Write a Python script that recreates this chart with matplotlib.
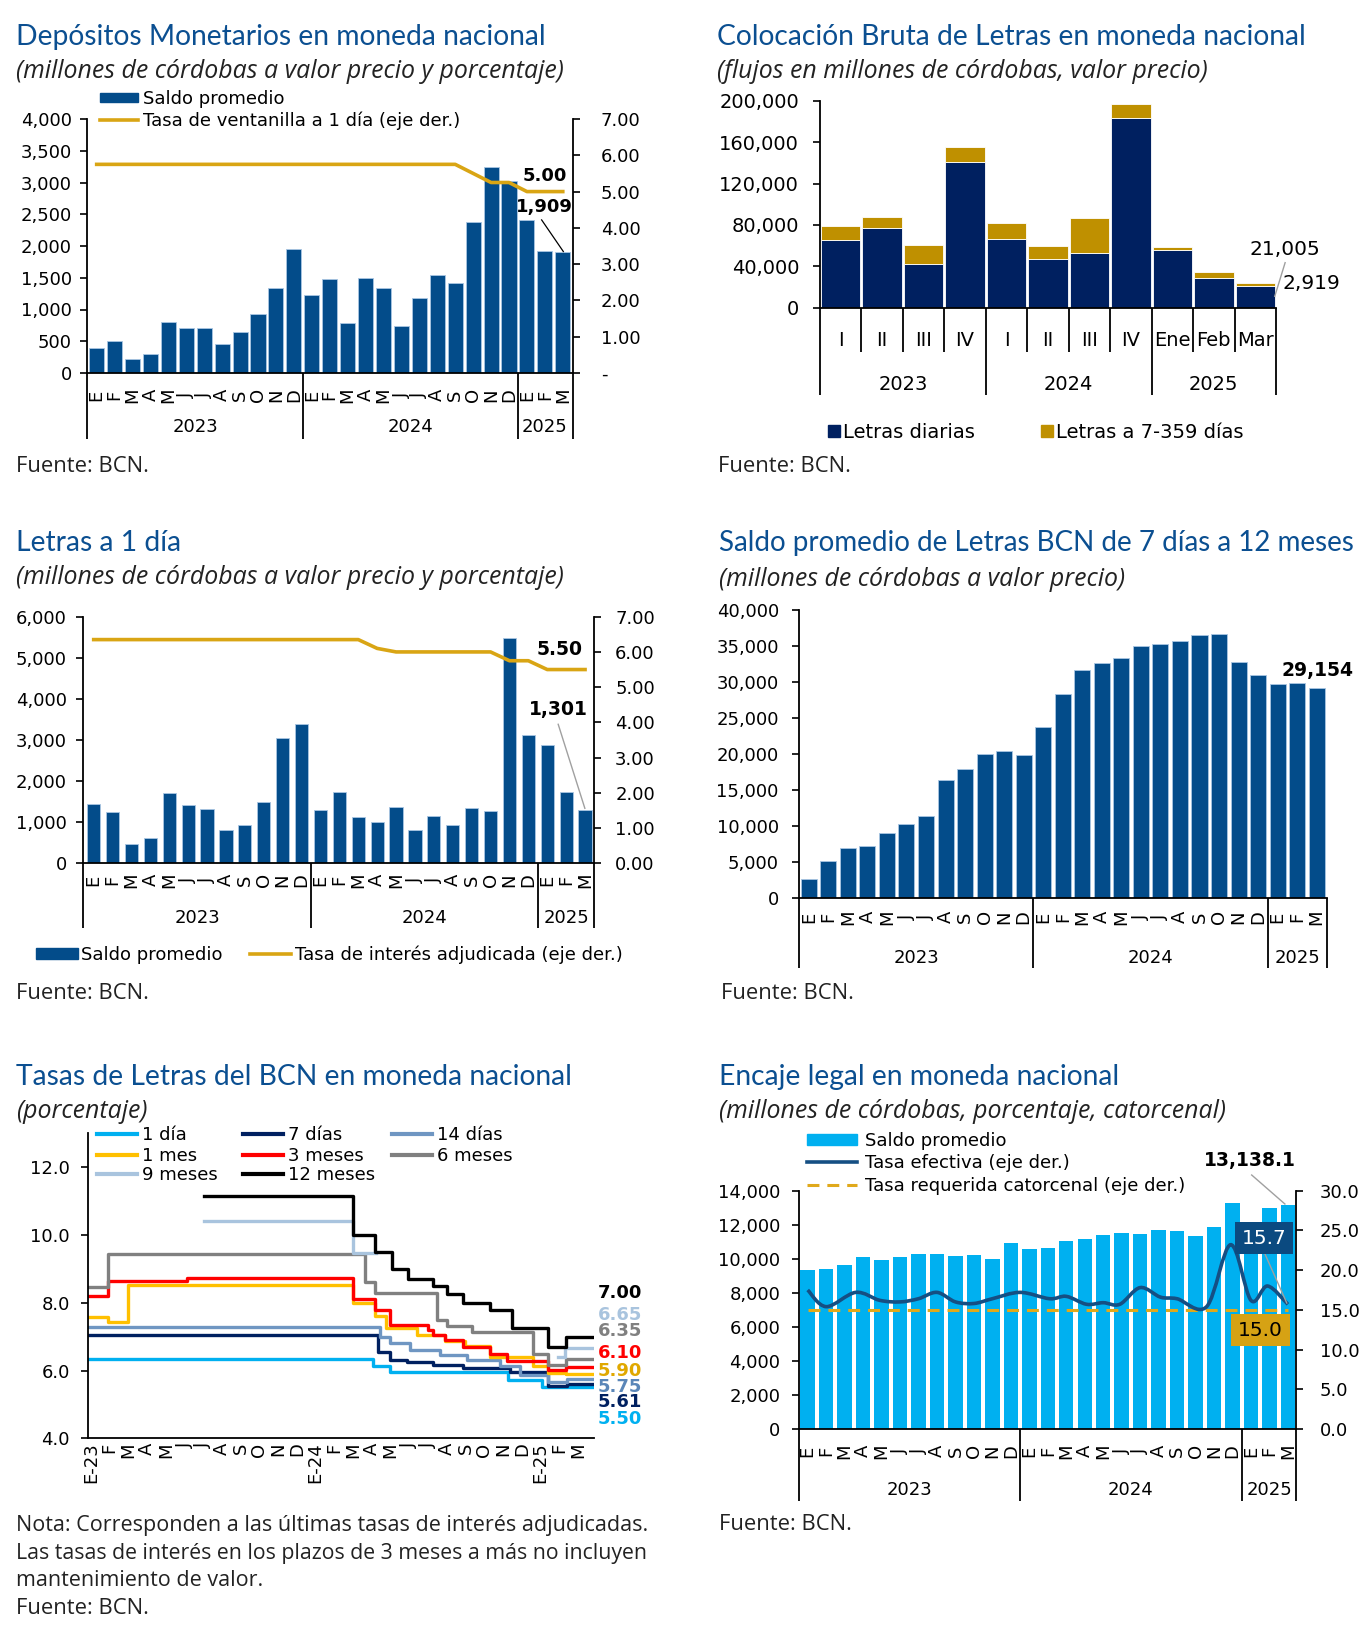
import numpy as np
import matplotlib
matplotlib.use("Agg")
import matplotlib.pyplot as plt
from matplotlib.patches import Patch, PathPatch
from matplotlib.lines import Line2D
from matplotlib.path import Path
from matplotlib.ticker import FuncFormatter

# ---------------- DATA ----------------
months_short = ['E', 'F', 'M', 'A', 'M', 'J', 'J', 'A', 'S', 'O', 'N', 'D']
month_labels = months_short * 2 + ['E', 'F', 'M']
years = ['2023', '2024', '2025']

# Panel 1: Depósitos monetarios
dep_saldo = [390, 500, 220, 300, 800, 710, 710, 460, 640, 930, 1340, 1960,
             1230, 1480, 790, 1500, 1340, 735, 1180, 1550, 1410, 2380, 3240, 3030,
             2415, 1915, 1909]
dep_tasa = [5.75] * 21 + [5.50, 5.25, 5.25, 5.00, 5.00, 5.00]

# Panel 2: Colocación bruta de letras
col_cats = ['I', 'II', 'III', 'IV', 'I', 'II', 'III', 'IV', 'Ene', 'Feb', 'Mar']
col_diarias = [65700, 76600, 42200, 140400, 66700, 47300, 52500, 183200, 56000, 28300, 21005]
col_7359 = [13500, 11000, 18400, 14800, 14800, 11900, 34500, 13900, 2300, 5800, 2919]

# Panel 3: Letras a 1 día
l1_saldo = [1440, 1260, 460, 620, 1700, 1420, 1320, 810, 920, 1500, 3040, 3400,
            1300, 1730, 1130, 1010, 1380, 810, 1150, 930, 1350, 1280, 5470, 3120,
            2880, 1730, 1301]
l1_tasa = [6.35] * 15 + [6.10] + [6.00] * 6 + [5.75, 5.75] + [5.50] * 3

# Panel 4: Saldo promedio letras 7 días a 12 meses
l7_saldo = [2730, 5230, 6940, 7310, 9020, 10270, 11470, 16370, 17900, 19980, 20440, 19840,
            23770, 28390, 31680, 32650, 33390, 35050, 35280, 35650, 36490, 36620, 32740, 30940,
            29730, 29830, 29154]

# Panel 5: Tasas de letras (step series; x = months since Jan-2023)
t_1d_x = [0, 15.23, 16.11, 22.43, 24.21, 27.0]
t_1d_y = [6.35, 6.12, 5.97, 5.72, 5.50, 5.50]
t_7d_x = [0, 15.49, 16.11, 17.0, 18.43, 20.03, 22.52, 24.56, 25.54, 27.0]
t_7d_y = [7.05, 6.56, 6.32, 6.24, 6.17, 6.07, 5.97, 5.53, 5.61, 5.61]
t_14d_x = [0, 15.58, 16.11, 17.18, 18.78, 20.21, 21.98, 23.05, 24.56, 25.54, 27.0]
t_14d_y = [7.28, 7.00, 6.80, 6.61, 6.46, 6.32, 6.12, 5.87, 5.67, 5.75, 5.75]
t_1m_x = [0, 1.08, 2.15, 14.16, 15.31, 15.90, 17.54, 19.05, 20.12, 21.45, 23.76, 24.56, 25.49, 27.0]
t_1m_y = [7.57, 7.43, 8.53, 8.00, 7.60, 7.25, 7.05, 6.86, 6.71, 6.41, 6.12, 5.92, 5.90, 5.90]
t_3m_x = [0, 1.08, 5.27, 14.16, 15.31, 16.11, 18.16, 18.43, 19.05, 20.03, 21.45, 22.34, 24.56, 25.49, 27.0]
t_3m_y = [8.20, 8.65, 8.72, 8.10, 7.80, 7.35, 7.20, 7.05, 6.90, 6.70, 6.50, 6.27, 6.02, 6.10, 6.10]
t_6m_x = [0, 1.08, 14.78, 15.31, 18.61, 19.14, 20.47, 23.76, 24.56, 25.49, 27.0]
t_6m_y = [8.45, 9.45, 8.60, 8.30, 7.50, 7.30, 7.13, 6.50, 6.15, 6.35, 6.35]
t_9m_x = [6.19, 14.16, 15.37, 15.37, 25.10, 25.45, 27.0]
t_9m_y = [10.40, 9.47, 9.47, np.nan, 6.40, 6.65, 6.65]
t_12m_x = [6.19, 14.16, 15.31, 16.20, 17.09, 18.43, 19.14, 20.03, 21.45, 22.61, 24.56, 25.49, 27.0]
t_12m_y = [11.15, 10.00, 9.50, 9.00, 8.70, 8.50, 8.25, 8.00, 7.80, 7.25, 6.70, 7.00, 7.00]
t_names = ['1 día', '7 días', '14 días', '1 mes', '3 meses', '6 meses', '9 meses', '12 meses']
t_last = ['5.50', '5.61', '5.75', '5.90', '6.10', '6.35', '6.65', '7.00']
t_ticklabels = ['E-23'] + months_short[1:] + ['E-24'] + months_short[1:] + ['E-25', 'F', 'M']

# Panel 6: Encaje legal
enc_saldo = [9340, 9380, 9650, 10080, 9950, 10080, 10280, 10280, 10160, 10200, 9970, 10950,
             10570, 10630, 11040, 11140, 11420, 11510, 11450, 11670, 11650, 11360, 11870, 13300,
             11900, 13000, 13138.1]
enc_tasa_x = [0, 1.0, 2.6, 3.9, 5.0, 6.0, 7.0, 8.0, 9.0, 10.0, 11.5, 13.1, 14.0, 15.1,
              16.0, 16.9, 18.0, 19.1, 20.0, 21.6, 22.9, 24.0, 24.9, 26.0]
enc_tasa_y = [17.5, 15.4, 17.2, 16.2, 16.0, 16.4, 17.2, 16.0, 15.8, 16.4, 17.2, 16.4, 16.7, 15.7,
              15.9, 15.7, 17.8, 16.6, 16.4, 15.4, 23.2, 16.2, 18.0, 15.7]
enc_req = 15.0

# ---------------- STYLE ----------------
plt.rcParams['font.family'] = ['DejaVu Sans']
W, H = 1364, 1625
fig = plt.figure(figsize=(W / 100, H / 100), dpi=100)

TFONT = 'Lato'
SFONT = 'Open Sans'
TCOLOR = '#0B4F91'
BLUE = '#034C8A'
GOLD = '#D9A514'
FS = 13


def rect(l, t, r, b):
    return [l / W, 1 - b / H, (r - l) / W, (b - t) / H]


def fx(x):
    return x / W


def fy(y):
    return 1 - y / H


def header(x, yt, ys, title, sub, tfs=20.3):
    fig.text(fx(x), fy(yt), title, family=TFONT, fontsize=tfs, color=TCOLOR, va='center', ha='left')
    fig.text(fx(x), fy(ys), sub, family=SFONT, style='italic', fontsize=17.9, color='#222222',
             va='center', ha='left')


def note(x, y, s, fs=15.8):
    fig.text(fx(x), fy(y), s, family=SFONT, fontsize=fs, color='#222222', va='center', ha='left')


def style(ax, lpad=6):
    for s in ['top', 'right']:
        ax.spines[s].set_visible(False)
    ax.spines['left'].set_linewidth(1.3)
    ax.spines['bottom'].set_linewidth(1.3)
    ax.tick_params(axis='y', direction='out', length=5, width=1.2, labelsize=FS, pad=lpad)
    ax.tick_params(axis='x', length=0)
    ax.set_facecolor('none')


def style_right(axr, pad):
    for s in ['top', 'left', 'bottom']:
        axr.spines[s].set_visible(False)
    axr.spines['right'].set_linewidth(1.3)
    axr.tick_params(axis='y', direction='out', length=5, width=1.2, labelsize=FS, pad=pad)
    for lab in axr.get_yticklabels():
        lab.set_ha('left')


def cat_axis(ax, box, centers, labels, y_lab, yrs, y_year, seps, y_sep, fs=FS, rot=90,
             short=None, y_short=None):
    l, t, r, b = box
    h = b - t
    tr = ax.get_xaxis_transform()

    def yf(y):
        return (b - y) / h
    for xc, lab in zip(centers, labels):
        ax.text(xc, yf(y_lab), lab, transform=tr, rotation=rot, ha='center', va='center',
                fontsize=fs, clip_on=False)
    for xc, lab in yrs:
        ax.text(xc, yf(y_year), lab, transform=tr, ha='center', va='center', fontsize=fs, clip_on=False)
    for xs in seps:
        ax.plot([xs, xs], [0, yf(y_sep)], transform=tr, color='black', lw=1.3, clip_on=False,
                solid_capstyle='butt')
    if short:
        for xs in short:
            ax.plot([xs, xs], [0, yf(y_short)], transform=tr, color='black', lw=1.3, clip_on=False,
                    solid_capstyle='butt')


def leg_item(handle, label, x_px, y_px, hl_px, pad_px, fs=FS, hh=0.7):
    em = fs * 100 / 72
    fig.legend([handle], [label], loc='center left', bbox_to_anchor=(fx(x_px), fy(y_px)),
               frameon=False, borderpad=0, borderaxespad=0, handlelength=hl_px / em,
               handletextpad=pad_px / em, fontsize=fs, handleheight=hh)


comma = FuncFormatter(lambda v, p: f'{v:,.0f}')
x27 = np.arange(27)

# ================= PANEL 1 =================
header(16, 37, 71, 'Depósitos Monetarios en moneda nacional',
       '(millones de córdobas a valor precio y porcentaje)')
b1 = (87, 119, 573, 373)
ax1 = fig.add_axes(rect(*b1))
style(ax1, lpad=6)
ax1.bar(x27, dep_saldo, width=0.84, color=BLUE, edgecolor='#A9C6E3', linewidth=0.6, zorder=2)
ax1.set_xlim(-0.54, 26.57)
ax1.set_ylim(0, 4000)
ax1.set_yticks(np.arange(0, 4001, 500))
ax1.yaxis.set_major_formatter(comma)
ax1.set_xticks([])
ax1r = ax1.twinx()
ax1r.set_ylim(0, 7)
ax1r.set_yticks(range(8))
ax1r.yaxis.set_major_formatter(FuncFormatter(lambda v, p: '-' if v == 0 else f'{v:.2f}'))
style_right(ax1r, 15)
ax1r.plot(x27, dep_tasa, color=GOLD, lw=2.6, zorder=3)
cat_axis(ax1, b1, x27, month_labels, 395, [(5.5, '2023'), (17.5, '2024'), (25, '2025')], 427,
         [-0.54, 11.5, 23.5, 26.57], 439)
ax1.text(25.0, 3104, '5.00', fontsize=13, fontweight='bold', ha='center', va='center')
ax1.text(25.0, 2617, '1,909', fontsize=13, fontweight='bold', ha='center', va='center')
ax1.plot([24.82, 26.03], [2411, 1913], color='black', lw=0.9, zorder=4)
leg_item(Patch(color=BLUE), 'Saldo promedio', 100, 99, 38, 5, hh=0.45)
leg_item(Line2D([], [], color=GOLD, lw=2.6), 'Tasa de ventanilla a 1 día (eje der.)', 100, 121, 38, 5)
note(16, 466, 'Fuente: BCN.')

# ================= PANEL 2 =================
header(717, 37, 71, 'Colocación Bruta de Letras en moneda nacional',
       '(flujos en millones de córdobas, valor precio)')
b2 = (820, 100.7, 1276, 307.7)
ax2 = fig.add_axes(rect(*b2))
style(ax2, lpad=10)
ax2.tick_params(axis='y', labelsize=14)
x11 = np.arange(11)
NAVY = '#002060'
GOLD2 = '#BF9000'
ax2.bar(x11, col_diarias, width=0.95, color=NAVY, edgecolor='white', linewidth=0.6, zorder=2)
ax2.bar(x11, col_7359, bottom=col_diarias, width=0.95, color=GOLD2, edgecolor='white', linewidth=0.6,
        zorder=2)
ax2.set_xlim(-0.5, 10.5)
ax2.set_ylim(0, 200000)
ax2.set_yticks(np.arange(0, 200001, 40000))
ax2.yaxis.set_major_formatter(comma)
ax2.set_xticks([])
cat_axis(ax2, b2, x11, col_cats, 340, [(1.5, '2023'), (5.5, '2024'), (9.0, '2025')], 384,
         [-0.5, 3.5, 7.5, 10.5], 395, fs=14, rot=0,
         short=[0.5, 1.5, 2.5, 4.5, 5.5, 6.5, 8.5, 9.5], y_short=352)
ax2.text(9.87, 56200, f'{col_diarias[-1]:,}', fontsize=14.5, ha='left', va='center', clip_on=False)
ax2.text(10.65, 23400, f'{col_7359[-1]:,}', fontsize=14.5, ha='left', va='center', clip_on=False)
ax2.plot([10.47, 10.72], [11000, 43500], color='#A0A0A0', lw=1.0, clip_on=False, zorder=4)
leg_item(Line2D([], [], marker='s', ms=8, ls='none', color=NAVY), 'Letras diarias', 828, 432, 11, 4, fs=14)
leg_item(Line2D([], [], marker='s', ms=8, ls='none', color=GOLD2), 'Letras a 7-359 días', 1041, 432, 11, 4,
         fs=14)
note(718, 466, 'Fuente: BCN.')

# ================= PANEL 3 =================
header(16, 543, 578, 'Letras a 1 día', '(millones de córdobas a valor precio y porcentaje)')
b3 = (83.3, 616.7, 594.3, 863.3)
ax3 = fig.add_axes(rect(*b3))
style(ax3, lpad=7)
ax3.bar(x27, l1_saldo, width=0.7, color=BLUE, edgecolor='#A9C6E3', linewidth=0.6, zorder=2)
ax3.set_xlim(-0.55, 26.49)
ax3.set_ylim(0, 6000)
ax3.set_yticks(np.arange(0, 6001, 1000))
ax3.yaxis.set_major_formatter(comma)
ax3.set_xticks([])
ax3r = ax3.twinx()
ax3r.set_ylim(0, 7)
ax3r.set_yticks(range(8))
ax3r.yaxis.set_major_formatter(FuncFormatter(lambda v, p: f'{v:.2f}'))
style_right(ax3r, 10)
ax3r.plot(x27, l1_tasa, color=GOLD, lw=2.6, zorder=3)
cat_axis(ax3, b3, x27, month_labels, 880, [(5.5, '2023'), (17.5, '2024'), (25, '2025')], 918,
         [-0.55, 11.5, 23.5, 26.49], 928)
ax3.text(24.67, 5214, '5.50', fontsize=13.5, fontweight='bold', ha='center', va='center')
ax3.text(24.57, 3730, '1,301', fontsize=13.5, fontweight='bold', ha='center', va='center')
ax3.plot([24.58, 25.99], [3382, 1338], color='#A0A0A0', lw=1.0, zorder=4)
leg_item(Patch(color=BLUE), 'Saldo promedio', 36, 955, 42, 3, hh=0.55)
leg_item(Line2D([], [], color=GOLD, lw=2.6), 'Tasa de interés adjudicada (eje der.)', 250, 955, 41, 4)
note(16, 994, 'Fuente: BCN.')

# ================= PANEL 4 =================
header(719, 543, 580, 'Saldo promedio de Letras BCN de 7 días a 12 meses',
       '(millones de córdobas a valor precio)', tfs=20.0)
b4 = (799, 610, 1326.5, 898.3)
ax4 = fig.add_axes(rect(*b4))
style(ax4, lpad=9.5)
ax4.bar(x27, l7_saldo, width=0.82, color=BLUE, edgecolor='#A9C6E3', linewidth=0.6, zorder=2)
ax4.set_xlim(-0.5, 26.5)
ax4.set_ylim(0, 40000)
ax4.set_yticks(np.arange(0, 40001, 5000))
ax4.yaxis.set_major_formatter(comma)
ax4.set_xticks([])
cat_axis(ax4, b4, x27, month_labels, 917, [(5.5, '2023'), (17.5, '2024'), (25, '2025')], 958,
         [-0.5, 11.5, 23.5, 26.5], 968)
ax4.text(26.06, 31675, f'{l7_saldo[-1]:,}', fontsize=13.5, fontweight='bold', ha='center', va='center',
         clip_on=False)
note(721, 994, 'Fuente: BCN.')

# ================= PANEL 5 =================
header(16, 1077, 1111, 'Tasas de Letras del BCN en moneda nacional', '(porcentaje)')
b5 = (88, 1133.3, 594, 1438.3)
ax5 = fig.add_axes(rect(*b5))
style(ax5, lpad=8)
ax5.set_xlim(0, 27)
ax5.set_ylim(4, 13)
ax5.set_yticks([4, 6, 8, 10, 12])
ax5.yaxis.set_major_formatter(FuncFormatter(lambda v, p: f'{v:.1f}'))
ax5.set_xticks(np.arange(27) + 0.15)
ax5.set_xticklabels(t_ticklabels, rotation=90, fontsize=FS)
ax5.tick_params(axis='x', pad=3)
series5 = [(t_1d_x, t_1d_y, '#00B0F0'), (t_7d_x, t_7d_y, '#002060'), (t_14d_x, t_14d_y, '#6F96C2'),
           (t_1m_x, t_1m_y, '#FFC000'), (t_3m_x, t_3m_y, '#FF0000'), (t_6m_x, t_6m_y, '#808080'),
           (t_9m_x, t_9m_y, '#A9C4DE'), (t_12m_x, t_12m_y, '#000000')]
handles5 = []
for (xs, ys, c), name in zip(series5, t_names):
    ax5.plot(xs, ys, drawstyle='steps-post', color=c, lw=2.4)
    handles5.append(Line2D([], [], color=c, lw=3))
leg_pos = [(97, 1135), (243, 1135), (392, 1135), (97, 1156), (243, 1156), (392, 1156), (97, 1175),
           (243, 1175)]
for i, (px, py) in enumerate(leg_pos):
    leg_item(handles5[i], t_names[i], px, py, 40, 5)
lab_cols = ['#00B0F0', '#002060', '#5A86B8', '#E0A800', '#FF0000', '#808080', '#A9C4DE', '#000000']
lab_y = [4.58, 5.07, 5.51, 5.98, 6.52, 7.17, 7.64, 8.29]
for s, c, yv in zip(t_last, lab_cols, lab_y):
    ax5.text(27.2, yv, s, color=c, fontsize=13, fontweight='bold', ha='left', va='center', clip_on=False)
note(16, 1525, 'Nota: Corresponden a las últimas tasas de interés adjudicadas.', fs=15.5)
note(16, 1553, 'Las tasas de interés en los plazos de 3 meses a más no incluyen', fs=15.3)
note(16, 1581, 'mantenimiento de valor.', fs=15.5)
note(16, 1609, 'Fuente: BCN.')

# ================= PANEL 6 =================
header(719, 1077, 1111, 'Encaje legal en moneda nacional',
       '(millones de córdobas, porcentaje, catorcenal)')
b6 = (799, 1190.7, 1296, 1429)
ax6 = fig.add_axes(rect(*b6))
style(ax6, lpad=8.4)
CYAN = '#00B0F0'
ax6.bar(x27, enc_saldo, width=0.78, color=CYAN, edgecolor='none', zorder=2)
ax6.set_xlim(-0.47, 26.44)
ax6.set_ylim(0, 14000)
ax6.set_yticks(np.arange(0, 14001, 2000))
ax6.yaxis.set_major_formatter(comma)
ax6.set_xticks([])
ax6r = ax6.twinx()
ax6r.set_ylim(0, 30)
ax6r.set_yticks(np.arange(0, 31, 5))
ax6r.yaxis.set_major_formatter(FuncFormatter(lambda v, p: f'{v:.1f}'))
style_right(ax6r, 12)
LNAVY = '#154F83'
ax6r.plot([0, 26], [enc_req, enc_req], color='#E0A91B', lw=2.2, dashes=(3.9, 2.6), zorder=3)
pts = np.column_stack([enc_tasa_x, enc_tasa_y])
verts = [pts[0]]
codes = [Path.MOVETO]
n = len(pts)
for i in range(n - 1):
    p0 = pts[i - 1] if i > 0 else pts[i]
    p1, p2 = pts[i], pts[i + 1]
    p3 = pts[i + 2] if i + 2 < n else pts[i + 1]
    verts += [p1 + (p2 - p0) / 6, p2 - (p3 - p1) / 6, p2]
    codes += [Path.CURVE4] * 3
ax6r.add_patch(PathPatch(Path(verts, codes), fill=False, edgecolor=LNAVY, lw=2.6, zorder=4))
cat_axis(ax6, b6, x27, month_labels, 1451, [(5.5, '2023'), (17.5, '2024'), (25, '2025')], 1490,
         [-0.47, 11.5, 23.5, 26.44], 1501)
ax6.text(23.95, 15745, f'{enc_saldo[-1]:,.1f}', fontsize=13.5, fontweight='bold', ha='center', va='center',
         clip_on=False)
ax6.plot([24.04, 25.84], [14922, 13218], color='#A0A0A0', lw=1.0, clip_on=False, zorder=5)
ax6r.plot([24.76, 25.94], [22.03, 15.86], color='#A0A0A0', lw=1.0, zorder=5)
ax6r.text(24.73, 24.04, f'{enc_tasa_y[-1]:.1f}', fontsize=14.5, color='white', ha='center', va='center',
          zorder=6, bbox=dict(boxstyle='square,pad=0.33', fc='#0B4A80', ec='none'))
ax6r.text(24.52, 12.42, f'{enc_req:.1f}', fontsize=14.5, color='black', ha='center', va='center', zorder=6,
          bbox=dict(boxstyle='square,pad=0.33', fc='#D6A214', ec='none'))
leg_item(Patch(color=CYAN), 'Saldo promedio', 807, 1141, 50, 8, hh=0.5)
leg_item(Line2D([], [], color=LNAVY, lw=2.6), 'Tasa efectiva (eje der.)', 807, 1163, 50, 8)
leg_item(Line2D([], [], color='#E0A91B', lw=2.2, dashes=(3.9, 2.6)), 'Tasa requerida catorcenal (eje der.)',
         807, 1186, 50, 8)
note(719, 1525, 'Fuente: BCN.')

fig.savefig('out.png', dpi=100)
